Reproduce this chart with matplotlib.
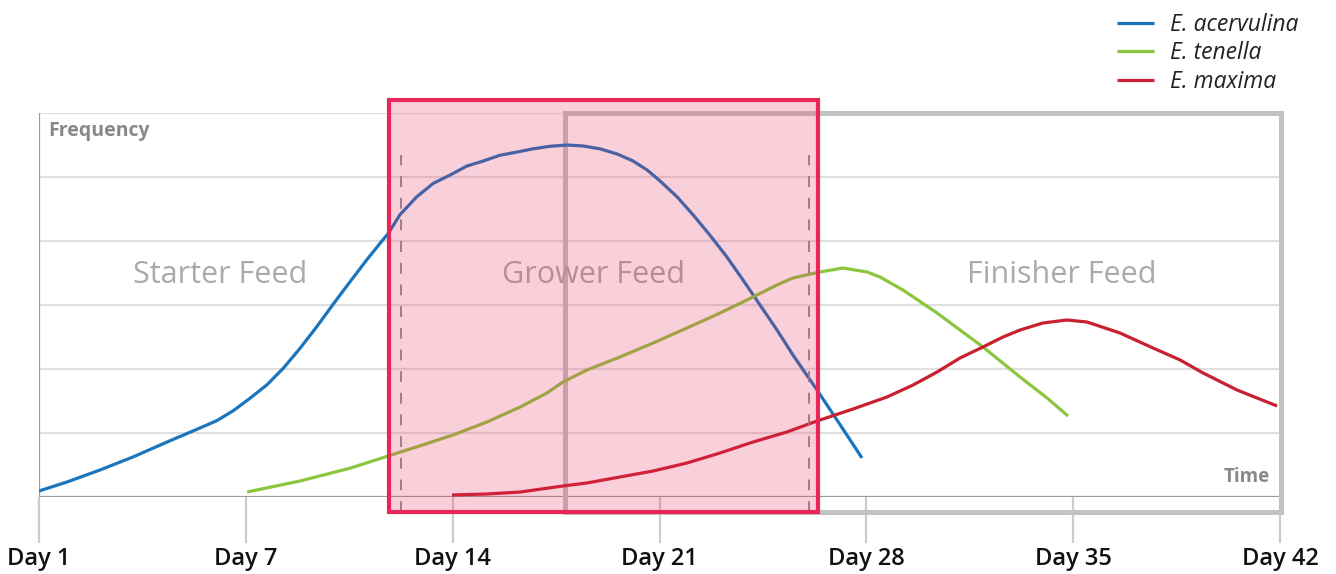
import matplotlib
matplotlib.use("Agg")
import matplotlib.pyplot as plt
from matplotlib.patches import Rectangle

plt.rcParams["font.family"] = ["Open Sans", "DejaVu Sans"]

days = ["Day 1", "Day 7", "Day 14", "Day 21", "Day 28", "Day 35", "Day 42"]

# x in tick-position units (0 = Day 1 ... 6 = Day 42), y in gridline units
acervulina_x = [0.000, 0.135, 0.295, 0.454, 0.619, 0.778, 0.859, 0.939, 1.020, 1.101,
                1.181, 1.262, 1.343, 1.423, 1.504, 1.584, 1.649, 1.689, 1.745, 1.826,
                1.906, 1.987, 2.068, 2.148, 2.229, 2.311, 2.388, 2.471, 2.553, 2.630,
                2.712, 2.795, 2.872, 2.940, 3.002, 3.085, 3.162, 3.244, 3.326, 3.404,
                3.486, 3.568, 3.645, 3.762, 3.873, 3.979]
acervulina_y = [0.094, 0.234, 0.422, 0.625, 0.859, 1.078, 1.192, 1.348, 1.542, 1.750,
                2.011, 2.323, 2.661, 3.016, 3.364, 3.703, 3.964, 4.120, 4.410, 4.690,
                4.900, 5.030, 5.170, 5.250, 5.340, 5.390, 5.440, 5.480, 5.500, 5.485,
                5.440, 5.360, 5.250, 5.110, 4.940, 4.690, 4.410, 4.090, 3.750, 3.390,
                3.000, 2.610, 2.220, 1.670, 1.130, 0.610]

tenella_x = [1.006, 1.262, 1.504, 1.687, 1.842, 2.002, 2.166, 2.326, 2.456,
             2.533, 2.649, 2.809, 2.969, 3.133, 3.293, 3.423, 3.568, 3.645, 3.776,
             3.887, 4.003, 4.066, 4.177, 4.342, 4.453, 4.564, 4.743, 4.874, 4.975]
tenella_y = [0.078, 0.250, 0.450, 0.640, 0.800, 0.969, 1.172, 1.406, 1.625,
             1.797, 1.984, 2.188, 2.406, 2.641, 2.875, 3.078, 3.313, 3.422, 3.516,
             3.578, 3.516, 3.438, 3.234, 2.875, 2.609, 2.344, 1.875, 1.547, 1.266]

maxima_x = [1.997, 2.166, 2.326, 2.533, 2.649, 2.809, 2.969, 3.133, 3.293, 3.452,
            3.616, 3.762, 3.936, 4.100, 4.226, 4.342, 4.453, 4.564, 4.661, 4.743,
            4.854, 4.970, 5.067, 5.226, 5.386, 5.517, 5.628, 5.792, 5.986]
maxima_y = [0.031, 0.047, 0.078, 0.172, 0.219, 0.313, 0.406, 0.531, 0.688, 0.859,
            1.016, 1.188, 1.375, 1.563, 1.750, 1.953, 2.172, 2.344, 2.500, 2.609,
            2.719, 2.766, 2.734, 2.563, 2.328, 2.141, 1.938, 1.672, 1.422]

feed_labels = ["Starter Feed", "Grower Feed", "Finisher Feed"]
feed_label_x = [0.875, 2.683, 4.946]

grower_span = (1.692, 3.766)
finisher_span = (2.543, 6.005)
grower_marks = [1.750, 3.723]

fig = plt.figure(figsize=(13.36, 5.74), dpi=100)
ax = fig.add_axes([39 / 1336, 77 / 574, 1241 / 1336, 384 / 574])
ax.set_xlim(0, 6)
ax.set_ylim(0, 6)
for s in ax.spines.values():
    s.set_visible(False)

for gy in range(1, 7):
    ax.axhline(gy, color="#e0e0e0", lw=1.6, zorder=1)
ax.plot([0, 0], [0, 6], color="#9a9a9a", lw=1.6, zorder=2)
ax.axhline(0, color="#9a9a9a", lw=1.6, zorder=2)

ax.set_xticks(range(len(days)))
ax.set_xticklabels(days, fontsize=17, fontweight="semibold", color="#111111")
ax.tick_params(axis="x", length=33, width=1.6, color="#cccccc", pad=3)
ax.set_yticks([])

# finisher box
ax.add_patch(Rectangle((finisher_span[0], -0.23), finisher_span[1] - finisher_span[0], 6.23,
                       fill=False, edgecolor="#c2c2c2", lw=3.6, zorder=2, clip_on=False))

line_kw = dict(lw=2.3, zorder=3, solid_joinstyle="round", solid_capstyle="butt")
ax.plot(acervulina_x, acervulina_y, color="#1a75bc", label="E. acervulina", **line_kw)
ax.plot(tenella_x, tenella_y, color="#8cc63f", label="E. tenella", **line_kw)
ax.plot(maxima_x, maxima_y, color="#c8202f", label="E. maxima", **line_kw)

for mx in grower_marks:
    ax.plot([mx, mx], [-0.23, 5.34], color="#8a8a8a", lw=1.3, ls=(0, (6, 6)),
            zorder=3, clip_on=False)

# grower box: translucent fill on top of the curves
ax.add_patch(Rectangle((grower_span[0], -0.23), grower_span[1] - grower_span[0], 6.43,
                       facecolor="#e8265a", alpha=0.22, edgecolor="none", zorder=4, clip_on=False))
ax.add_patch(Rectangle((grower_span[0], -0.23), grower_span[1] - grower_span[0], 6.43,
                       fill=False, edgecolor="#e8265a", lw=3.0, zorder=5, clip_on=False))

for lbl, lx in zip(feed_labels, feed_label_x):
    ax.text(lx, 3.47, lbl, ha="center", va="center", fontsize=22, color="#aaaaaa", zorder=3.5)

ax.text(0.045, 5.72, "Frequency", ha="left", va="center", fontsize=14,
        fontweight="bold", color="#888888")
ax.text(5.95, 0.31, "Time", ha="right", va="center", fontsize=13.5,
        fontweight="bold", color="#888888")

leg = fig.legend(loc="upper left", bbox_to_anchor=(1107 / 1336, 1 - 3 / 574), frameon=False,
                 prop={"size": 16.5, "style": "italic"}, handlelength=1.6,
                 handletextpad=0.7, labelspacing=0.18, borderaxespad=0.05)
for t in leg.get_texts():
    t.set_color("#222222")

fig.savefig("out.png", dpi=100)
